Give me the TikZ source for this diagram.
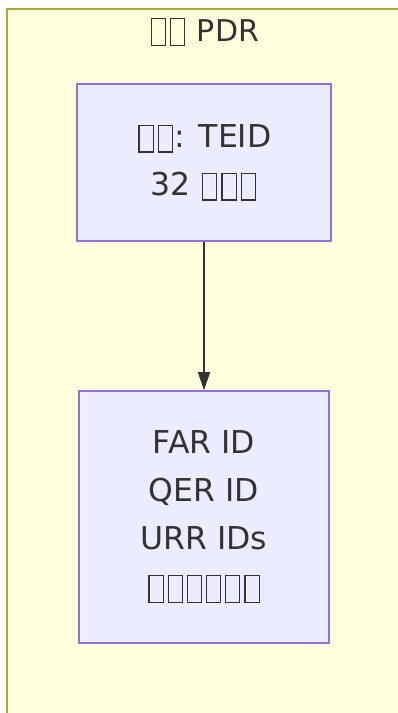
\documentclass[tikz,border=0pt]{standalone}
\usepackage{fontspec}
\setmainfont{DejaVu Sans}
\usetikzlibrary{arrows.meta}
\definecolor{clfill}{HTML}{FFFFDE}
\definecolor{clline}{HTML}{AAAA33}
\definecolor{ndfill}{HTML}{ECECFF}
\definecolor{ndline}{HTML}{9370DB}
\definecolor{txt}{HTML}{333333}
% empty glyph box, as the reference prints missing characters
\newcommand\tofu{\kern2pt\lower5pt\vbox{\hrule height 1.1pt\hbox{\vrule width 1.1pt height 25.8pt\kern13pt\vrule width 1.1pt}\hrule height 1.1pt}\kern2pt}
\tikzset{
  cluster/.style={draw=clline, fill=clfill, line width=2pt},
  stepbox/.style={draw=ndline, fill=ndfill, line width=1.6pt, align=center,
    text=txt, inner sep=0pt, font=\fontsize{31.5}{48}\selectfont},
  titletext/.style={text=txt, font=\fontsize{30}{34}\selectfont, inner sep=0pt},
  conn/.style={draw=txt, line width=1.5pt, -{Triangle[length=18pt,width=12pt]}}
}
\begin{document}
\begin{tikzpicture}[x=1pt,y=-1pt]
\useasboundingbox (0,0) rectangle (398,713);
\fill[clfill] (7,9) rectangle (410,725);
\draw[cluster] (410,9) -- (7,9) -- (7,725);
\node[titletext, anchor=base] (title) at (204,41) {\tofu\tofu{} PDR};
\node[stepbox, minimum width=254pt, minimum height=157pt] (match) at (204,162.5)
  {\tofu\tofu: TEID\\32 \tofu\tofu\tofu};
\node[stepbox, minimum width=250pt, minimum height=252pt] (ids) at (204,517)
  {FAR ID\\QER ID\\URR IDs\\\tofu\tofu\tofu\tofu\tofu\tofu};
\draw[conn] (match.south) -- (ids.north);
\end{tikzpicture}
\end{document}
